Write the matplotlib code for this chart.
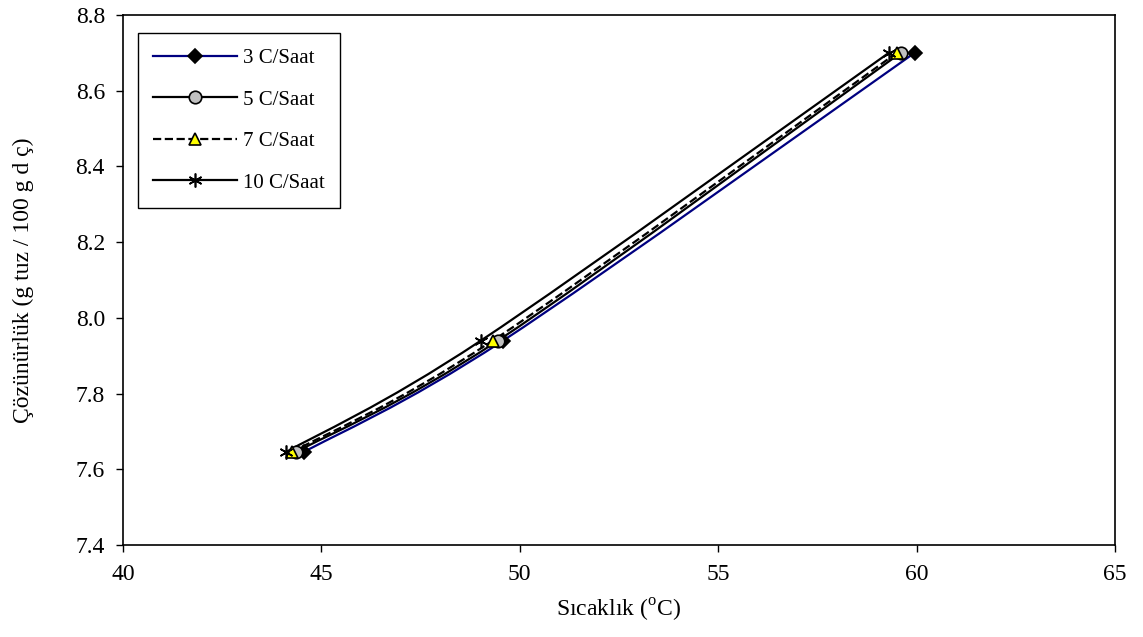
import numpy as np
import matplotlib
matplotlib.use("Agg")
import matplotlib.pyplot as plt
from matplotlib.path import Path
from matplotlib.patches import PathPatch
from matplotlib.lines import Line2D

plt.rcParams['font.family'] = ['Liberation Serif', 'DejaVu Serif']
plt.rcParams['mathtext.fontset'] = 'custom'
plt.rcParams['mathtext.rm'] = 'Liberation Serif'

# veriler
series_names = ['3 C/Saat', '5 C/Saat', '7 C/Saat', '10 C/Saat']
temp_3 = [44.55, 49.58, 59.95]
temp_5 = [44.35, 49.45, 59.6]
temp_7 = [44.25, 49.32, 59.5]
temp_10 = [44.1, 49.02, 59.3]
solub = [7.645, 7.94, 8.70]

temps = [temp_3, temp_5, temp_7, temp_10]
colors = ['#000080', 'black', 'black', 'black']
styles = ['-', '-', '--', '-']
markers = ['D', 'o', '^', (6, 2, 0)]
mfaces = ['black', '#C0C0C0', '#FFFF00', 'black']
msizes = [7, 9, 9, 10]


def smooth_path(xs, ys):
    # Excel tarzi yumusak cizgi (Bezier)
    p = np.column_stack([xs, ys])
    n = len(p)
    verts = [p[0]]
    codes = [Path.MOVETO]
    for i in range(n - 1):
        p0 = p[i - 1] if i > 0 else p[i]
        p3 = p[i + 2] if i + 2 < n else p[i + 1]
        c1 = p[i] + (p[i + 1] - p0) / 6.0
        c2 = p[i + 1] - (p3 - p[i]) / 6.0
        verts += [c1, c2, p[i + 1]]
        codes += [Path.CURVE4] * 3
    return Path(verts, codes)


fig = plt.figure(figsize=(11.43, 6.37), dpi=100)
ax = fig.add_axes([0.1076, 0.1444, 0.8679, 0.8321])

handles = []
for i in range(4):
    patch = PathPatch(smooth_path(temps[i], solub), facecolor='none',
                      edgecolor=colors[i], linestyle=styles[i], lw=1.6, zorder=2 + i)
    ax.add_patch(patch)
    mec = 'black'
    ax.plot(temps[i], solub, linestyle='none', marker=markers[i], ms=msizes[i],
            markerfacecolor=mfaces[i], markeredgecolor=mec, mew=1.2, zorder=10 + i)
    handles.append(Line2D([], [], color=colors[i], linestyle=styles[i], lw=1.6,
                          marker=markers[i], ms=msizes[i], markerfacecolor=mfaces[i],
                          markeredgecolor=mec, mew=1.2))

ax.set_xlim(40, 65)
ax.set_ylim(7.4, 8.8)
ax.set_xticks([40, 45, 50, 55, 60, 65])
ax.set_yticks(np.arange(7.4, 8.81, 0.2))
ax.yaxis.set_major_formatter(plt.FormatStrFormatter('%.1f'))
ax.tick_params(direction='out', labelsize=17, length=5, width=1)
ax.tick_params(axis='x', pad=9)
ax.tick_params(axis='y', pad=8)
for s in ax.spines.values():
    s.set_linewidth(1.2)

ax.set_xlabel('Sıcaklık ($^{\\mathrm{o}}$C)', fontsize=17, labelpad=8)
ax.set_ylabel('Çözünürlük (g tuz / 100 g d ç)', fontsize=17, labelpad=30)

leg = ax.legend(handles, series_names, loc='upper left', fontsize=15,
                frameon=True, fancybox=False, edgecolor='black', framealpha=1,
                handlelength=4.0, handletextpad=0.3, labelspacing=1.05, borderpad=0.75,
                borderaxespad=0, bbox_to_anchor=(0.015, 0.966))
leg.get_frame().set_linewidth(1.0)

fig.savefig('out.png', dpi=100)
